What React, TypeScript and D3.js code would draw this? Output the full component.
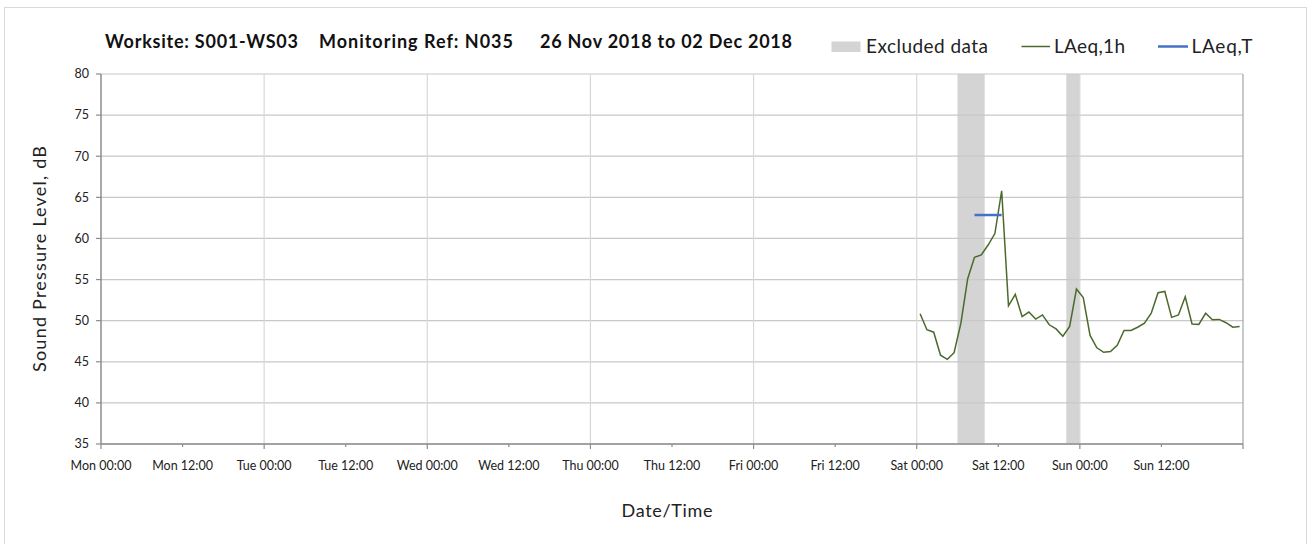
import React from "react";
import * as d3 from "d3";

const dayLabels = ["Mon", "Tue", "Wed", "Thu", "Fri", "Sat", "Sun"];
const tickHours = d3.range(0, 168, 12);
const yTicks = [35, 40, 45, 50, 55, 60, 65, 70, 75, 80];

// LAeq,1h from Sat 00:00 (hour offset 120) onward, hourly
const laeq1hStart = 120;
const laeq1h = [
  50.85, 48.9, 48.6, 45.8, 45.3, 46.1, 49.7, 55.1, 57.7, 58.0, 59.2, 60.6,
  65.8, 51.8, 53.2, 50.5, 51.05, 50.2, 50.7, 49.5, 49.0, 48.1, 49.3, 53.85,
  52.8, 48.2, 46.7, 46.15, 46.25, 47.0, 48.8, 48.8, 49.2, 49.7, 50.9, 53.4,
  53.55, 50.4, 50.7, 52.9, 49.6, 49.55, 50.9, 50.1, 50.15, 49.75, 49.2, 49.3,
];
// Excluded periods, hours since Mon 00:00
const excludedStart = [126, 142];
const excludedEnd = [130, 144];
// LAeq,T
const laeqTStart = 128.5;
const laeqTEnd = 132.5;
const laeqTValue = 62.85;

const titleParts = ["Worksite: S001-WS03", "Monitoring Ref: N035", "26 Nov 2018 to 02 Dec 2018"];
const legendLabels = ["Excluded data", "LAeq,1h", "LAeq,T"];

const W = 1309;
const H = 544;
const L = 101, R = 1243, T = 74, B = 444;
const FONT = "Lato, 'Open Sans', sans-serif";

export default function App() {
  const x = d3.scaleLinear().domain([0, 168]).range([L, R]);
  const y = d3.scaleLinear().domain([35, 80]).range([B, T]);
  const pts = laeq1h.map((v, i) => [laeq1hStart + i + 0.5, v] as [number, number]);
  const line = d3.line<[number, number]>().x((d) => x(d[0])).y((d) => y(d[1]));
  const fmt = (h: number) => `${dayLabels[Math.floor(h / 24)]} ${h % 24 === 0 ? "00:00" : "12:00"}`;

  return (
    <svg width={W} height={H} style={{ position: "absolute", left: 0, top: 0, background: "#fff" }} fontFamily={FONT}>
      <rect x={4.5} y={7.5} width={1302} height={545} fill="#fff" stroke="#d9d9d9" />
      {/* excluded bands */}
      {excludedStart.map((s, i) => (
        <rect key={"ex" + i} x={x(s)} y={T} width={x(excludedEnd[i]) - x(s)} height={B - T} fill="#d4d4d4" />
      ))}
      {/* horizontal grid */}
      {yTicks.map((t) => (
        <line key={"gy" + t} x1={L} x2={R} y1={y(t)} y2={y(t)} stroke="#c8c8c8" strokeWidth={1.2} />
      ))}
      {/* vertical grid at day boundaries */}
      {tickHours.filter((h) => h % 24 === 0 && h > 0).map((h) => (
        <line key={"gx" + h} x1={x(h)} x2={x(h)} y1={T} y2={B} stroke="#d8d8d8" strokeWidth={1.2} />
      ))}
      <line x1={R} x2={R} y1={T} y2={B} stroke="#a6a6a6" strokeWidth={1.2} />
      {/* axes */}
      <line x1={L} x2={L} y1={T} y2={B} stroke="#8c8c8c" strokeWidth={1.5} />
      <line x1={L} x2={R} y1={B} y2={B} stroke="#8c8c8c" strokeWidth={1.5} />
      {yTicks.map((t) => (
        <g key={"yt" + t}>
          <line x1={L - 5} x2={L} y1={y(t)} y2={y(t)} stroke="#8c8c8c" strokeWidth={1.2} />
          <text x={L - 12} y={y(t)} dy="0.35em" textAnchor="end" fontSize={12.5} fill="#222">{t}</text>
        </g>
      ))}
      {[...tickHours, 168].map((h) => (
        <line key={"xt" + h} x1={x(h)} x2={x(h)} y1={B} y2={B + (h % 24 === 0 ? 5 : 3)} stroke="#8c8c8c" strokeWidth={1.2} />
      ))}
      {tickHours.map((h) => (
        <text key={"xl" + h} x={x(h)} y={470} textAnchor="middle" fontSize={12.5} fill="#222">{fmt(h)}</text>
      ))}
      {/* data */}
      <path d={line(pts) || ""} fill="none" stroke="#4a6a2c" strokeWidth={1.5} />
      <line x1={x(laeqTStart)} x2={x(laeqTEnd)} y1={y(laeqTValue)} y2={y(laeqTValue)} stroke="#4472c4" strokeWidth={2.5} />
      {/* title */}
      <text x={105} y={47.5} fontSize={18} fontWeight="bold" fill="#111" textLength={193} lengthAdjust="spacing">{titleParts[0]}</text>
      <text x={319} y={47.5} fontSize={18} fontWeight="bold" fill="#111" textLength={194} lengthAdjust="spacing">{titleParts[1]}</text>
      <text x={540} y={47.5} fontSize={18} fontWeight="bold" fill="#111" textLength={252} lengthAdjust="spacing">{titleParts[2]}</text>
      {/* legend */}
      <rect x={831.5} y={41.5} width={29} height={10.5} fill="#d4d4d4" />
      <text x={866} y={53} fontSize={19} fill="#222" textLength={122} lengthAdjust="spacing">{legendLabels[0]}</text>
      <line x1={1021.5} x2={1050} y1={46.5} y2={46.5} stroke="#4a6a2c" strokeWidth={1.5} />
      <text x={1054} y={53} fontSize={19} fill="#222" textLength={71} lengthAdjust="spacing">{legendLabels[1]}</text>
      <line x1={1158} x2={1188} y1={46.5} y2={46.5} stroke="#4472c4" strokeWidth={2.5} />
      <text x={1191.5} y={53} fontSize={19} fill="#222" textLength={61} lengthAdjust="spacing">{legendLabels[2]}</text>
      {/* axis titles */}
      <text transform={`translate(46,${(T + B) / 2}) rotate(-90)`} textAnchor="middle" fontSize={18} fill="#222" textLength={226} lengthAdjust="spacing">
        Sound Pressure Level, dB
      </text>
      <text x={667} y={517} textAnchor="middle" fontSize={18} fill="#222" textLength={91} lengthAdjust="spacing">Date/Time</text>
    </svg>
  );
}
